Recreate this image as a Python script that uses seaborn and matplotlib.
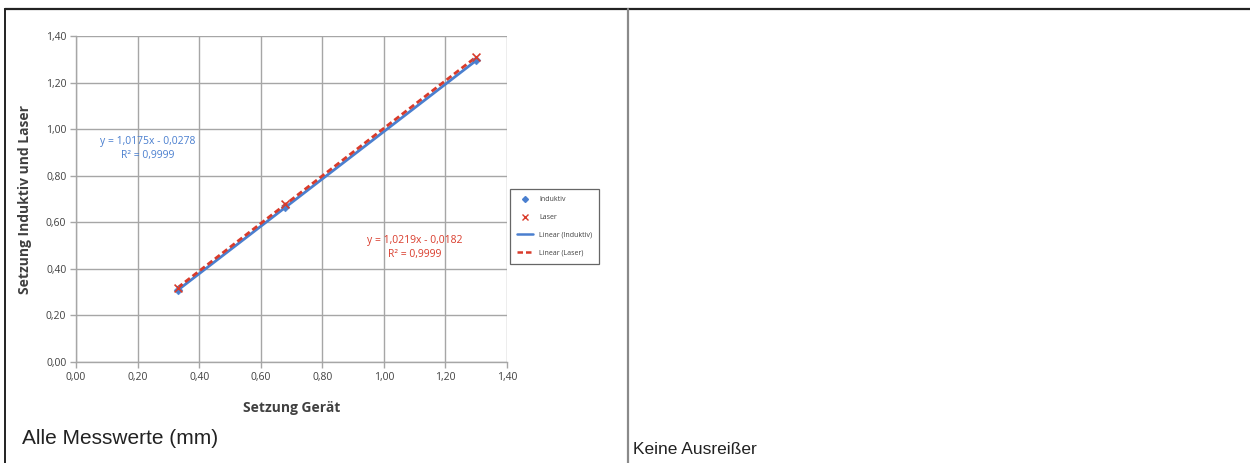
import matplotlib
matplotlib.use("Agg")
import matplotlib.pyplot as plt
from matplotlib.lines import Line2D
from matplotlib.ticker import FuncFormatter
import numpy as np
import pandas as pd
import seaborn as sns

# Measured settlement values (mm)
geraet = [0.33, 0.68, 1.30]
induktiv = [0.31, 0.665, 1.295]
laser = [0.32, 0.68, 1.31]

# Linear trend coefficients (slope, intercept)
fit_induktiv = [1.0175, -0.0278]
fit_laser = [1.0219, -0.0182]
r2_induktiv = 0.9999
r2_laser = 0.9999

x_ticks = [0.0, 0.2, 0.4, 0.6, 0.8, 1.0, 1.2, 1.4]
y_ticks = [0.0, 0.2, 0.4, 0.6, 0.8, 1.0, 1.2, 1.4]

blue = "#4a7fcf"
red = "#d93b2b"
grid_c = "#a6a6a6"
text_c = "#404040"

sns.set_theme(style="white")
plt.rcParams["font.family"] = ["Open Sans", "DejaVu Sans"]

fig = plt.figure(figsize=(12.5, 4.63), dpi=100)
ax = fig.add_axes([0.0608, 0.2181, 0.3448, 0.7041])

df = pd.DataFrame({"x": geraet + geraet,
                   "y": induktiv + laser,
                   "Reihe": ["Induktiv"] * 3 + ["Laser"] * 3})

# trend lines from the stated equations
xs = np.array([min(geraet), max(geraet)])
for (m, b), col, ls in [(fit_induktiv, blue, "-"), (fit_laser, red, (0, (2.2, 1.2)))]:
    sns.lineplot(x=xs, y=m * xs + b, ax=ax, color=col, lw=2.0, linestyle=ls, zorder=3)

sns.scatterplot(data=df[df.Reihe == "Induktiv"], x="x", y="y", ax=ax, marker="D",
                color=blue, s=20, edgecolor=blue, zorder=4, legend=False)
sns.scatterplot(data=df[df.Reihe == "Laser"], x="x", y="y", ax=ax, marker="x",
                color=red, s=32, linewidth=1.2, zorder=4, legend=False)

ax.set_xlim(0, 1.4)
ax.set_ylim(0, 1.4)
ax.set_xticks(x_ticks)
ax.set_yticks(y_ticks)
fmt = FuncFormatter(lambda v, p: f"{v:.2f}".replace(".", ","))
ax.xaxis.set_major_formatter(fmt)
ax.yaxis.set_major_formatter(fmt)
ax.grid(True, color=grid_c, lw=1.0)
ax.set_axisbelow(True)
for side in ["top", "right"]:
    ax.spines[side].set_visible(False)
for side in ["left", "bottom"]:
    ax.spines[side].set_color(grid_c)
    ax.spines[side].set_linewidth(1.0)
ax.tick_params(axis="both", which="major", length=4, width=1.0, color=grid_c,
               labelsize=7.5, labelcolor=text_c, direction="out", left=True, bottom=True, pad=3)

ax.set_xlabel("Setzung Gerät", fontsize=10, fontweight="bold", color=text_c, labelpad=13)
ax.set_ylabel("Setzung Induktiv und Laser", fontsize=10, fontweight="bold", color=text_c, labelpad=10)

ax.text(0.234, 0.945, f"y = {fit_induktiv[0]:.4f}x - {abs(fit_induktiv[1]):.4f}".replace(".", ","),
        fontsize=7.5, color=blue, ha="center", va="center")
ax.text(0.234, 0.885, f"R² = {r2_induktiv:.4f}".replace(".", ","),
        fontsize=7.5, color=blue, ha="center", va="center")
ax.text(1.10, 0.524, f"y = {fit_laser[0]:.4f}x - {abs(fit_laser[1]):.4f}".replace(".", ","),
        fontsize=7.5, color=red, ha="center", va="center")
ax.text(1.10, 0.46, f"R² = {r2_laser:.4f}".replace(".", ","),
        fontsize=7.5, color=red, ha="center", va="center")

handles = [
    Line2D([], [], marker="D", color=blue, ls="none", markersize=3),
    Line2D([], [], marker="x", color=red, ls="none", markersize=5, mew=1.0),
    Line2D([], [], color=blue, lw=1.8),
    Line2D([], [], color=red, lw=1.8, ls=(0, (2.2, 1.2))),
]
labels = ["Induktiv", "Laser", "Linear (Induktiv)", "Linear (Laser)"]
leg = ax.legend(handles, labels, loc="upper left", bbox_to_anchor=(1.0, 0.54),
                fontsize=5, frameon=True, fancybox=False, borderpad=1.0,
                labelspacing=1.55, handlelength=2.2, handletextpad=0.9, labelcolor=text_c)
leg.get_frame().set_edgecolor("#404040")
leg.get_frame().set_linewidth(0.9)

# captions
fig.text(22 / 1250, 1 - 438 / 463, "Alle Messwerte (mm)", fontsize=15,
         family=["Liberation Sans"], color="#222222", ha="left", va="center")
fig.text(633 / 1250, 1 - 449 / 463, "Keine Ausreißer", fontsize=12.5,
         family=["Liberation Sans"], color="#222222", ha="left", va="center")

# table rules around the panels
fig.add_artist(Line2D([5 / 1250, 1.0], [1 - 9 / 463] * 2, color="#222222", lw=1.6,
                      transform=fig.transFigure))
fig.add_artist(Line2D([5 / 1250] * 2, [0, 1 - 9 / 463], color="#222222", lw=1.4,
                      transform=fig.transFigure))
fig.add_artist(Line2D([628 / 1250] * 2, [0, 1 - 9 / 463], color="#8a8a8a", lw=1.6,
                      transform=fig.transFigure))

fig.savefig("out.png", dpi=100, facecolor="white")
